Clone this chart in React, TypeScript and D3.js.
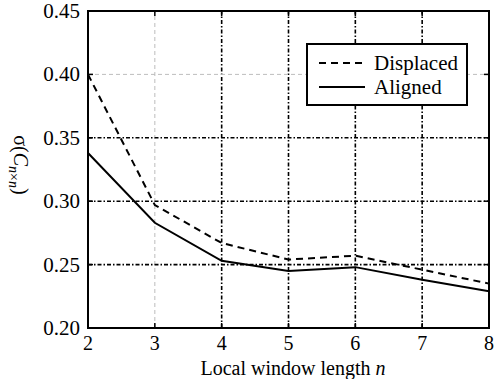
import * as d3 from "d3";

// window lengths n
const windowLengths = [2, 3, 4, 5, 6, 7, 8];
const displaced = [0.4, 0.297, 0.267, 0.254, 0.257, 0.246, 0.235];
const aligned = [0.338, 0.283, 0.253, 0.245, 0.248, 0.238, 0.229];

const xTicks = [2, 3, 4, 5, 6, 7, 8];
const yTicks = [0.2, 0.25, 0.3, 0.35, 0.4, 0.45];
// which grid lines come out light grey dashed instead of black dash-dot
const greyX = [3];
const greyY = [0.4];

const W = 498;
const H = 379;
const margin = { top: 11, right: 9, bottom: 51, left: 88 };
const txt = {
    fontFamily: '"Liberation Serif", Tinos, "Times New Roman", "DejaVu Serif", serif',
    fontSize: "20px",
};

export default function App() {
    const x = d3
        .scaleLinear()
        .domain([2, 8])
        .range([margin.left, W - margin.right]);
    const y = d3
        .scaleLinear()
        .domain([0.2, 0.45])
        .range([H - margin.bottom, margin.top]);

    const line = d3
        .line<number>()
        .x((_, i) => x(windowLengths[i]))
        .y((d) => y(d));

    const x0 = x.range()[0];
    const x1 = x.range()[1];
    const y0 = y.range()[0];
    const y1 = y.range()[1];

    return (
        <svg width={W} height={H} style={{ position: "absolute", left: 0, top: 0 }}>
            <rect width={W} height={H} fill="#fff" />

            {/* grid */}
            {xTicks.slice(1, -1).map((t) => {
                const grey = greyX.includes(t);
                return (
                    <line
                        key={"gx" + t}
                        x1={x(t)}
                        x2={x(t)}
                        y1={y0}
                        y2={y1}
                        stroke={grey ? "#bdbdbd" : "#000"}
                        strokeWidth={grey ? 1 : 1.6}
                        strokeDasharray={grey ? "4,3" : "4,2,1.5,2"}
                    />
                );
            })}
            {yTicks.slice(1, -1).map((t) => {
                const grey = greyY.includes(t);
                return (
                    <line
                        key={"gy" + t}
                        x1={x0}
                        x2={x1}
                        y1={y(t)}
                        y2={y(t)}
                        stroke={grey ? "#bdbdbd" : "#000"}
                        strokeWidth={grey ? 1 : 1.6}
                        strokeDasharray={grey ? "4,3" : "4,2,1.5,2"}
                    />
                );
            })}

            {/* data */}
            <path d={line(displaced) || ""} fill="none" stroke="#000" strokeWidth={2} strokeDasharray="7,5" />
            <path d={line(aligned) || ""} fill="none" stroke="#000" strokeWidth={2} />

            {/* axes box */}
            <rect x={x0} y={y1} width={x1 - x0} height={y0 - y1} fill="none" stroke="#000" strokeWidth={2} />

            {/* inward ticks */}
            {xTicks.map((t) => (
                <g key={"tx" + t}>
                    <line x1={x(t)} x2={x(t)} y1={y0} y2={y0 - 5} stroke="#000" strokeWidth={1.5} />
                    <line x1={x(t)} x2={x(t)} y1={y1} y2={y1 + 5} stroke="#000" strokeWidth={1.5} />
                    <text x={x(t)} y={350} textAnchor="middle" style={txt}>
                        {t}
                    </text>
                </g>
            ))}
            {yTicks.map((t) => (
                <g key={"ty" + t}>
                    <line x1={x0} x2={x0 + 5} y1={y(t)} y2={y(t)} stroke="#000" strokeWidth={1.5} />
                    <line x1={x1} x2={x1 - 5} y1={y(t)} y2={y(t)} stroke="#000" strokeWidth={1.5} />
                    <text x={80} y={y(t) + 7} textAnchor="end" style={{ ...txt, fontSize: "21px" }}>
                        {t.toFixed(2)}
                    </text>
                </g>
            ))}

            {/* axis labels */}
            <text x={293} y={375} textAnchor="middle" style={txt}>
                Local window length <tspan fontStyle="italic">n</tspan>
            </text>
            <text transform="translate(14,165) rotate(90)" textAnchor="middle" style={txt}>
                σ(<tspan fontStyle="italic">C</tspan>
                <tspan fontSize={14} dy={5} fontStyle="italic">n</tspan>
                <tspan fontSize={14}>×</tspan>
                <tspan fontSize={14} fontStyle="italic">n</tspan>
                <tspan dy={-5}>)</tspan>
            </text>

            {/* legend */}
            <rect x={307} y={44} width={160} height={61} fill="#fff" stroke="#000" strokeWidth={2} />
            <line x1={319} x2={365} y1={63} y2={63} stroke="#000" strokeWidth={2} strokeDasharray="7,5" />
            <text x={374} y={70} style={{ ...txt, fontSize: "21px" }}>
                Displaced
            </text>
            <line x1={319} x2={365} y1={87} y2={87} stroke="#000" strokeWidth={2} />
            <text x={374} y={94} style={{ ...txt, fontSize: "21px" }}>
                Aligned
            </text>
        </svg>
    );
}
